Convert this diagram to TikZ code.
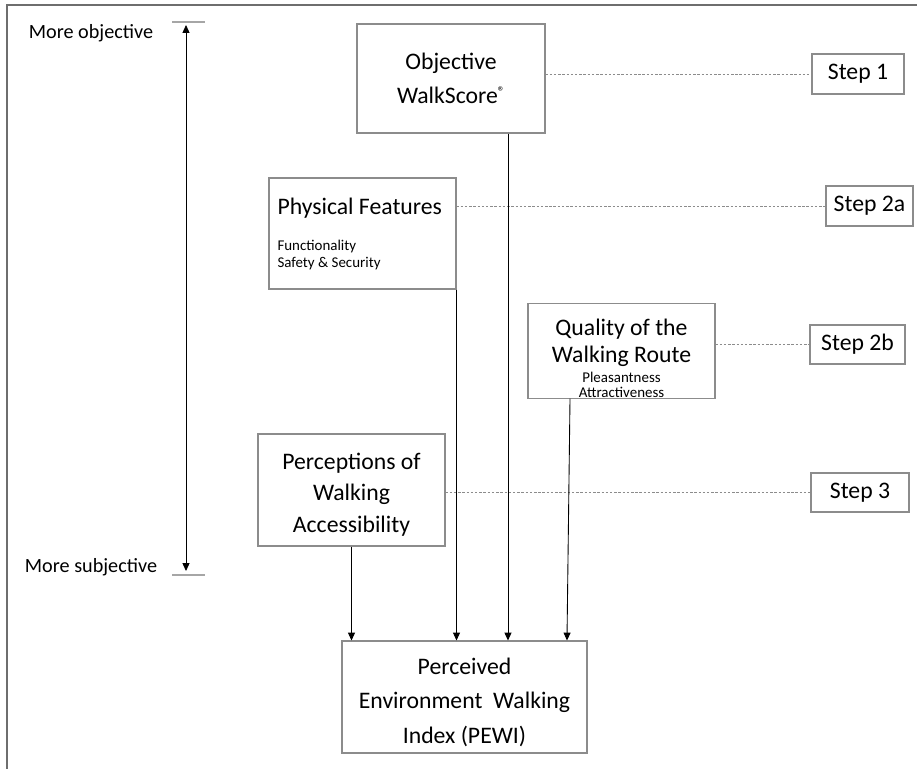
\documentclass[tikz,border=0pt]{standalone}
\usepackage{fontspec}
\setmainfont{Carlito}
\usepackage{tikz}
\usetikzlibrary{arrows,shapes}
\usetikzlibrary{arrows.meta}
\usetikzlibrary{calc}
\definecolor{boxgray}{HTML}{8C8C8C}
\definecolor{framegray}{HTML}{6E6E6E}
\definecolor{tickgray}{HTML}{A6A6A6}

\begin{document}
\begin{tikzpicture}[x=0.02cm, y=-0.02cm,
  font=\fontsize{13.5}{19}\selectfont,
  >={Triangle[length=4.5pt,width=4pt]},
  box/.style={draw=boxgray, line width=0.6pt, inner sep=0pt, align=flush center},
  stepbox/.style={box, minimum height=0.78cm},
  link/.style={draw=boxgray, line width=0.5pt, dash pattern=on 1.4pt off 1pt},
  feed/.style={->, line width=0.5pt},
  side/.style={font=\fontsize{11.5}{14}\selectfont}]

  \useasboundingbox (0,0) rectangle (917,769);

  % Frame
  \draw[framegray, line width=1.4pt] (917,5) -- (7,5) -- (7,769);

  % Scale on the left
  \node[side] (moreobj) at (91,33) {More objective};
  \node[side] (moresubj) at (91,567) {More subjective};
  \draw[tickgray, line width=0.6pt] (172,22) -- (205,22);
  \draw[tickgray, line width=0.6pt] (172,575) -- (205,575);
  \coordinate (scaletop) at (186,25);
  \coordinate (scalebot) at (186,571);
  \draw[<->, line width=0.5pt] (scaletop) -- (scalebot);

  % Nodes
  \node[box, text width=3.76cm, minimum height=2.18cm] (obj) at (451,78.5)
    {Objective\\WalkScore\raisebox{0.6ex}{\fontsize{8}{8}\selectfont ®}};
  \node[box, align=flush left, text width=3.4cm, inner xsep=0.17cm, minimum height=2.22cm] (phys) at (362.5,233.5)
    {Physical Features\par\vspace{11pt}\fontsize{8.5}{9.6}\selectfont Functionality\\Safety \& Security\par};
  \node[box, text width=3.74cm, minimum height=1.88cm, font=\fontsize{13.5}{15.5}\selectfont] (qual) at (621.5,351)
    {\rule{0pt}{18pt}Quality of the\\Walking Route\par\vspace{2pt}\fontsize{8.5}{9}\selectfont Pleasantness\\Attractiveness\par};
  \node[box, text width=3.74cm, minimum height=2.24cm, font=\fontsize{13.5}{18}\selectfont] (perc) at (351.5,490)
    {\rule{0pt}{14.5pt}Perceptions of\\Walking\\Accessibility};
  \node[box, text width=4.9cm, minimum height=2.24cm, font=\fontsize{13.5}{19.5}\selectfont] (pewi) at (464.5,697)
    {\rule{0pt}{15.5pt}Perceived\\Environment\ \ Walking\\Index (PEWI)};

  \node[stepbox, text width=1.84cm, minimum height=0.8cm] (step1) at (858,74) {Step 1};
  \node[stepbox, text width=1.74cm, minimum height=0.8cm] (step2a) at (869.5,206) {Step 2a};
  \node[stepbox, text width=1.9cm] (step2b) at (857.5,344.5) {Step 2b};
  \node[stepbox, text width=1.96cm] (step3) at (860,492.5) {Step 3};

  % Links to the steps
  \draw[link] (obj.east |- step1.west) -- (step1.west);
  \draw[link] (phys.east |- step2a.west) -- (step2a.west);
  \draw[link] (qual.east |- step2b.west) -- (step2b.west);
  \draw[link] (perc.east |- step3.west) -- (step3.west);

  % Arrows into the index
  \draw[feed] (perc.south) -- (perc.south |- pewi.north);
  \draw[feed] (phys.south east) -- (phys.south east |- pewi.north);
  \draw[feed] ([xshift=1.14cm]obj.south) -- ([xshift=1.14cm]obj.south |- pewi.north);
  \draw[feed] ([xshift=-1.03cm]qual.south) -- ([xshift=2.05cm]pewi.north);
\end{tikzpicture}
\end{document}
